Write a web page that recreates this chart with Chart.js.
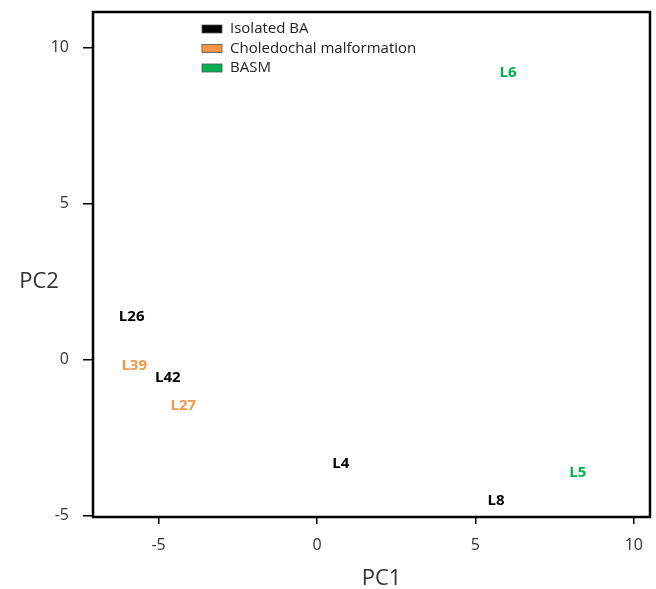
<!DOCTYPE html>
<html>
<head>
<meta charset="utf-8">
<script src="https://cdn.jsdelivr.net/npm/chart.js@4.4.1/dist/chart.umd.min.js"></script>
<style>
  html, body { margin: 0; padding: 0; background: #fff; }
  #wrap { width: 656px; height: 589px; }
</style>
</head>
<body>
<div id="wrap"><canvas id="mycanvas" width="656" height="589"></canvas></div>
<script>
// group names and label colours
var groups = ["Isolated BA", "Choledochal malformation", "BASM"];
var groupColors = ["#000000", "#f79646", "#00b050"];

// PCA scores
var isolatedNames = ["L26", "L42", "L4", "L8"];
var isolatedPC1 = [-5.85, -4.71, 0.75, 5.65];
var isolatedPC2 = [1.39, -0.59, -3.34, -4.52];

var choledochalNames = ["L39", "L27"];
var choledochalPC1 = [-5.77, -4.22];
var choledochalPC2 = [-0.21, -1.47];

var basmNames = ["L6", "L5"];
var basmPC1 = [6.03, 8.23];
var basmPC2 = [9.2, -3.63];

var xTicks = [-5, 0, 5, 10];
var yTicks = [-5, 0, 5, 10];

function makePoints(xs, ys, names) {
    var pts = [];
    for (var i in xs) {
        pts.push({ x: xs[i], y: ys[i], name: names[i] });
    }
    return pts;
}

var chartdata = {
    datasets: [
        { label: groups[0], data: makePoints(isolatedPC1, isolatedPC2, isolatedNames), backgroundColor: groupColors[0], pointRadius: 0 },
        { label: groups[1], data: makePoints(choledochalPC1, choledochalPC2, choledochalNames), backgroundColor: groupColors[1], pointRadius: 0 },
        { label: groups[2], data: makePoints(basmPC1, basmPC2, basmNames), backgroundColor: groupColors[2], pointRadius: 0 }
    ]
};

var tickFont = { family: "'Open Sans', sans-serif", size: 16 };

// draws the sample names at each point, the box, legend and axis titles
var pcaPlugin = {
    id: 'pcaPlugin',
    afterDatasetsDraw: function(chart) {
        var ctx = chart.ctx;
        var area = chart.chartArea;
        ctx.save();

        // sample labels
        ctx.font = "bold 15px 'Open Sans', sans-serif";
        ctx.textAlign = 'center';
        ctx.textBaseline = 'middle';
        chart.data.datasets.forEach(function(ds, di) {
            var meta = chart.getDatasetMeta(di);
            meta.data.forEach(function(el, i) {
                ctx.fillStyle = ds.backgroundColor;
                ctx.fillText(ds.data[i].name, el.x, el.y);
            });
        });

        // frame
        ctx.strokeStyle = '#000';
        ctx.lineWidth = 2.5;
        ctx.strokeRect(area.left, area.top, area.right - area.left, area.bottom - area.top);

        // legend
        ctx.font = "15px 'Open Sans', sans-serif";
        ctx.textAlign = 'left';
        var lx = area.left + 109, ly = area.top + 17;
        chart.data.datasets.forEach(function(ds, di) {
            var y = ly + di * 19.5;
            ctx.fillStyle = ds.backgroundColor;
            ctx.fillRect(lx, y - 4, 20, 8);
            ctx.strokeStyle = '#555';
            ctx.lineWidth = 0.8;
            ctx.strokeRect(lx, y - 4, 20, 8);
            ctx.fillStyle = '#222';
            ctx.fillText(ds.label, lx + 28, y);
        });

        // axis titles
        ctx.fillStyle = '#333';
        ctx.font = "22px 'Open Sans', sans-serif";
        ctx.textAlign = 'center';
        ctx.fillText("PC1", (area.left + area.right) / 2 + 10, area.bottom + 62);
        ctx.fillText("PC2", 39, 282);
        ctx.restore();
    }
};

var ctx = document.getElementById("mycanvas");

var ScatterGraph = new Chart(ctx, {
    type: 'scatter',
    data: chartdata,
    plugins: [pcaPlugin],
    options: {
        responsive: false,
        animation: false,
        layout: { padding: { top: 12, right: 6, left: 0, bottom: 0 } },
        plugins: {
            legend: { display: false },
            tooltip: { enabled: false }
        },
        scales: {
            x: {
                type: 'linear',
                min: -7.07,
                max: 10.51,
                afterBuildTicks: function(scale) {
                    scale.ticks = xTicks.map(function(v) { return { value: v }; });
                },
                afterFit: function(scale) {
                    scale.height = 72;
                    scale.paddingLeft = 0;
                    scale.paddingRight = 0;
                },
                grid: { drawOnChartArea: false, drawTicks: true, tickLength: 7, color: '#000', lineWidth: 1.5 },
                border: { display: false },
                ticks: { font: tickFont, color: '#333', padding: 12, maxRotation: 0 }
            },
            y: {
                type: 'linear',
                min: -5.05,
                max: 11.15,
                afterBuildTicks: function(scale) {
                    scale.ticks = yTicks.map(function(v) { return { value: v }; });
                },
                afterFit: function(scale) {
                    scale.width = 93;
                    scale.paddingTop = 0;
                    scale.paddingBottom = 0;
                },
                grid: { drawOnChartArea: false, drawTicks: true, tickLength: 10, color: '#000', lineWidth: 1.5 },
                border: { display: false },
                ticks: { font: tickFont, color: '#333', padding: 14 }
            }
        }
    }
});
</script>
</body>
</html>
